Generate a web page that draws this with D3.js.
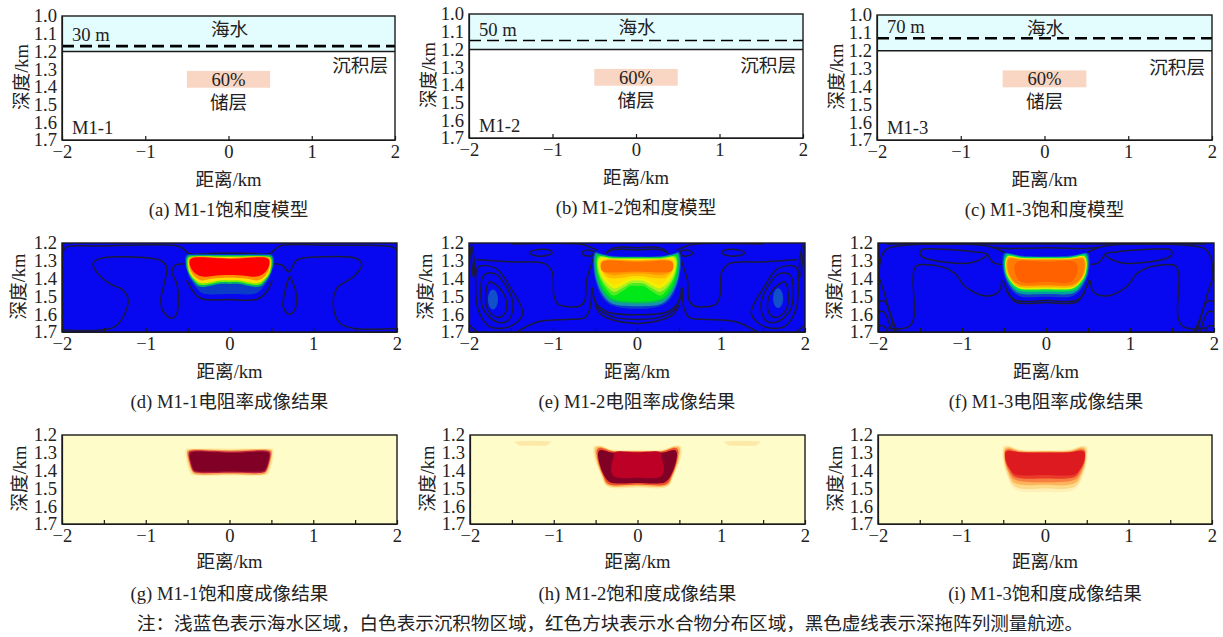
<!DOCTYPE html>
<html><head><meta charset="utf-8">
<script src="https://cdn.jsdelivr.net/npm/d3@7"></script>
<style>
html,body{margin:0;background:#fff}
svg text{font-family:"Liberation Serif","Noto Sans CJK SC",serif;fill:#222;font-size:18.6px}
</style></head><body><svg id="c" width="1223" height="637"></svg>
<script>
// ---------- axes ----------
const xDomain = [-2, 2];
const modelDepth = [1.0, 1.7];
const imageDepth = [1.2, 1.7];
const modelXTicks = [-2, -1, 0, 1, 2];
const imageXTicks = [-2, -1.5, -1, -0.5, 0, 0.5, 1, 1.5, 2];
const modelYTicks = [1.0, 1.1, 1.2, 1.3, 1.4, 1.5, 1.6, 1.7];
const imageYTicks = [1.2, 1.3, 1.4, 1.5, 1.6, 1.7];
const xTitle = "距离/km", yTitle = "深度/km";
const note = "注：浅蓝色表示海水区域，白色表示沉积物区域，红色方块表示水合物分布区域，黑色虚线表示深拖阵列测量航迹。";

// ---------- model panels ----------
const modelNames = ["M1-1", "M1-2", "M1-3"];
const modelTowOffsets = ["30 m", "50 m", "70 m"];
const modelTowDepths = [1.17, 1.15, 1.13];
const seabedDepth = 1.2;
const reservoir = {x0: -0.5, x1: 0.5, d0: 1.31, d1: 1.405};
const saturationLabel = "60%";

// ---------- captions ----------
const captions = [
 "(a) M1-1饱和度模型","(b) M1-2饱和度模型","(c) M1-3饱和度模型",
 "(d) M1-1电阻率成像结果","(e) M1-2电阻率成像结果","(f) M1-3电阻率成像结果",
 "(g) M1-1饱和度成像结果","(h) M1-2饱和度成像结果","(i) M1-3饱和度成像结果"];

// ---------- nested bands: half outlines [x km, depth km], mirrored about x = 0 ----------
const bandsD = [
 ["#0a3cc8",[[0,1.265],[.45,1.262],[.52,1.27],[.53,1.31],[.47,1.4],[.37,1.465],[.3,1.485],[0,1.487]]],
 ["#00b070",[[0,1.268],[.42,1.268],[.5,1.272],[.52,1.3],[.5,1.36],[.44,1.41],[.36,1.445],[.22,1.44],[.12,1.43],[0,1.43]]],
 ["#70f000",[[0,1.274],[.42,1.274],[.49,1.28],[.505,1.31],[.48,1.37],[.42,1.41],[.35,1.435],[.22,1.43],[.12,1.42],[0,1.42]]],
 ["#ffe000",[[0,1.279],[.43,1.279],[.48,1.285],[.495,1.31],[.47,1.37],[.41,1.405],[.34,1.425],[.22,1.42],[.12,1.41],[0,1.41]]],
 ["#ff9000",[[0,1.284],[.47,1.284],[.485,1.31],[.46,1.36],[.4,1.395],[.33,1.41],[.2,1.4],[0,1.395]]],
 ["#ff0000",[[0,1.288],[.46,1.288],[.478,1.31],[.45,1.35],[.38,1.38],[.3,1.39],[.2,1.385],[0,1.38]]]
];
const bandsE = [
 ["#0a3cc8",[[0,1.275],[.3,1.272],[.44,1.258],[.5,1.25],[.525,1.29],[.5,1.4],[.42,1.5],[.3,1.55],[0,1.57]]],
 ["#1a90b0",[[0,1.278],[.3,1.276],[.44,1.262],[.49,1.256],[.51,1.29],[.49,1.4],[.41,1.49],[.3,1.54],[0,1.555]]],
 ["#00c050",[[0,1.28],[.3,1.278],[.44,1.266],[.48,1.262],[.497,1.295],[.475,1.4],[.4,1.48],[.3,1.525],[0,1.54]]],
 ["#00e818",[[0,1.283],[.3,1.281],[.44,1.27],[.47,1.268],[.487,1.295],[.465,1.39],[.39,1.47],[.28,1.515],[0,1.53]]],
 ["#50ee20",[[0,1.285],[.3,1.283],[.44,1.273],[.46,1.275],[.478,1.295],[.455,1.38],[.38,1.45],[.28,1.495],[.17,1.47],[.08,1.442],[0,1.44]]],
 ["#b0f020",[[0,1.287],[.3,1.286],[.44,1.277],[.47,1.3],[.445,1.38],[.37,1.44],[.27,1.475],[.17,1.452],[.08,1.428],[0,1.425]]],
 ["#f0f000",[[0,1.29],[.3,1.29],[.43,1.283],[.46,1.305],[.435,1.37],[.36,1.425],[.27,1.455],[.17,1.436],[.08,1.413],[0,1.41]]],
 ["#ffdd00",[[0,1.293],[.3,1.293],[.42,1.288],[.45,1.31],[.425,1.365],[.35,1.41],[.27,1.435],[.17,1.418],[.08,1.4],[0,1.398]]],
 ["#ffbb00",[[0,1.297],[.4,1.295],[.44,1.315],[.415,1.36],[.34,1.395],[.2,1.397],[.08,1.387],[0,1.385]]],
 ["#ff9900",[[0,1.3],[.4,1.3],[.43,1.32],[.4,1.36],[.3,1.38],[.1,1.373],[0,1.372]]],
 ["#ff7000",[[0,1.305],[.41,1.305],[.43,1.33],[.41,1.358],[0,1.36]]]
];
const bandsF = [
 ["#1040c8",[[0,1.275],[.3,1.27],[.45,1.258],[.5,1.256],[.52,1.3],[.5,1.38],[.4,1.47],[.3,1.5],[0,1.502]]],
 ["#00a0a0",[[0,1.278],[.3,1.274],[.44,1.26],[.48,1.26],[.505,1.3],[.48,1.39],[.38,1.465],[.3,1.485],[0,1.487]]],
 ["#00e050",[[0,1.28],[.3,1.278],[.44,1.265],[.47,1.268],[.495,1.3],[.47,1.39],[.37,1.455],[.3,1.47],[0,1.473]]],
 ["#e0f000",[[0,1.286],[.3,1.283],[.44,1.272],[.46,1.276],[.485,1.305],[.46,1.385],[.36,1.445],[.3,1.458],[0,1.46]]],
 ["#ffb000",[[0,1.29],[.3,1.288],[.43,1.279],[.45,1.282],[.475,1.31],[.45,1.38],[.35,1.44],[.3,1.448],[0,1.45]]],
 ["#ff7c00",[[0,1.296],[.3,1.293],[.44,1.288],[.46,1.315],[.44,1.375],[.34,1.43],[0,1.438]]],
 ["#ff6000",[[0,1.306],[.34,1.306],[.375,1.33],[.36,1.38],[.3,1.418],[0,1.418]]]
];
const bandsG = [
 ["#fde8a0",[[0,1.277],[.45,1.277],[.52,1.28],[.52,1.33],[.46,1.42],[.4,1.428],[0,1.428]]],
 ["#f5a050",[[0,1.285],[.48,1.283],[.505,1.29],[.49,1.35],[.44,1.41],[.4,1.42],[0,1.42]]],
 ["#c02040",[[0,1.293],[.47,1.29],[.49,1.3],[.475,1.35],[.43,1.405],[.39,1.412],[0,1.412]]],
 ["#800026",[[0,1.3],[.46,1.298],[.475,1.31],[.46,1.355],[.42,1.4],[.38,1.405],[0,1.405]]]
];
const bandsH = [
 ["#fee8a0",[[0,1.285],[.3,1.282],[.45,1.26],[.52,1.265],[.52,1.32],[.44,1.42],[.36,1.49],[0,1.495]]],
 ["#fdbb60",[[0,1.29],[.3,1.288],[.44,1.265],[.5,1.27],[.495,1.33],[.42,1.43],[.36,1.483],[0,1.487]]],
 ["#f0502a",[[0,1.293],[.3,1.291],[.45,1.272],[.485,1.285],[.475,1.34],[.41,1.43],[.35,1.475],[0,1.478]]],
 ["#800026",[[0,1.3],[.3,1.298],[.45,1.285],[.47,1.3],[.46,1.35],[.39,1.435],[.33,1.465],[0,1.47]]],
 ["#bd0026",[[0,1.298],[.27,1.298],[.29,1.33],[.31,1.37],[.31,1.41],[.27,1.436],[0,1.44]]]
];
const bandsI = [
 ["#fff0b8",[[0,1.285],[.3,1.28],[.44,1.26],[.5,1.265],[.51,1.33],[.46,1.42],[.36,1.505],[0,1.52]]],
 ["#fdd98a",[[0,1.29],[.3,1.285],[.44,1.265],[.49,1.27],[.495,1.34],[.45,1.42],[.36,1.49],[0,1.5]]],
 ["#fdb35a",[[0,1.29],[.3,1.29],[.44,1.27],[.48,1.28],[.485,1.34],[.44,1.41],[.36,1.47],[0,1.48]]],
 ["#f58040",[[0,1.295],[.3,1.293],[.44,1.278],[.475,1.285],[.48,1.34],[.43,1.41],[.36,1.45],[0,1.465]]],
 ["#ea3a2a",[[0,1.298],[.3,1.296],[.43,1.285],[.47,1.29],[.475,1.34],[.42,1.4],[.36,1.435],[0,1.445]]],
 ["#dc1a20",[[0,1.3],[.3,1.298],[.43,1.29],[.47,1.295],[.47,1.34],[.42,1.39],[.36,1.42],[0,1.425]]]
];
const ellipsesE = [[-1.715,1.517,.06,.056,"#1050c8"],[1.68,1.51,.06,.056,"#1050c8"]];
const lensH = [[-1.475,1.237],[-1.25,1.232],[-1.025,1.237],[-1.09,1.26],[-1.41,1.26]];

// ---------- contour lines: [points, closed, mirror] ----------
const contoursD = [
 [[[-1.98,1.241],[-1.94,1.222],[-1.55,1.217],[-.67,1.213],[-.57,1.226],[-.48,1.26],[-.35,1.26],[0,1.256],[.35,1.26],[.48,1.26],[.57,1.226],[.63,1.213],[1.24,1.213],[1.94,1.222],[2,1.241]],false,false],
 [[[-1.98,1.689],[-1.55,1.689],[-1.37,1.67],[-1.25,1.596],[-1.21,1.521],[-1.27,1.465],[-1.43,1.428],[-1.57,1.372],[-1.63,1.316],[-1.55,1.288],[-1.15,1.278],[-.83,1.297],[-.75,1.334],[-.77,1.409],[-.82,1.521],[-.79,1.586],[-.69,1.623],[-.63,1.596],[-.61,1.502],[-.63,1.428],[-.69,1.362],[-.65,1.325],[-.54,1.316]],false,false],
 [[[2,1.68],[1.48,1.679],[1.32,1.651],[1.24,1.558],[1.28,1.456],[1.48,1.39],[1.58,1.325],[1.52,1.288],[1.08,1.278],[.8,1.297],[.71,1.362],[.63,1.325],[.53,1.316]],false,false],
 [[[.72,1.39],[.65,1.502],[.64,1.558],[.71,1.601],[.78,1.573],[.8,1.502],[.745,1.409]],true,false],
 [[[-.515,1.409],[-.39,1.497],[-.31,1.516],[0,1.518],[.33,1.516],[.45,1.47],[.51,1.409]],false,false]
];
const contoursE = [
 [[[-1.91,1.293],[-1.515,1.306],[-1.1,1.316],[-1.01,1.362],[-.99,1.493],[-.94,1.543],[-.68,1.554],[-.62,1.521],[-.6,1.409],[-.54,1.316],[-.51,1.269]],false,true],
 [[[-1.435,1.7],[-1.28,1.661],[-1.12,1.637],[-.8,1.629],[-.62,1.618],[-.56,1.568],[-.54,1.45]],false,true],
 [[[-.53,1.45],[-.5,1.53],[-.36,1.586],[0,1.603]],false,true],
 [[[-.515,1.5],[-.44,1.577],[-.285,1.615],[0,1.63]],false,true],
 [[[-.5,1.549],[-.42,1.605],[-.225,1.64],[0,1.653]],false,true],
 [[[-1.754,1.418],[-1.8,1.484],[-1.774,1.577],[-1.655,1.618],[-1.575,1.596],[-1.555,1.53],[-1.615,1.465]],true,true],
 [[[-1.825,1.381],[-1.86,1.465],[-1.825,1.577],[-1.675,1.642],[-1.535,1.636],[-1.475,1.549],[-1.555,1.446],[-1.695,1.372]],true,true],
 [[[-1.89,1.334],[-1.92,1.446],[-1.89,1.577],[-1.754,1.67],[-1.515,1.67],[-1.36,1.596],[-1.515,1.446],[-1.675,1.344]],true,true],
 [[[-1.28,1.255],[-1.22,1.24],[-1.04,1.24],[-1.01,1.255],[-1.08,1.27],[-1.22,1.27]],true,true],
 [[[-.66,1.255],[-.6,1.24],[-.51,1.25],[-.54,1.27],[-.62,1.27]],true,true],
 [[[-1.5,1.205],[-.7,1.205],[-.6,1.215],[-.47,1.24]],false,true],
 [[[-.36,1.25],[-.265,1.226],[0,1.226]],false,true],
 [[[-.38,1.262],[-.3,1.24],[0,1.24]],false,true],
 [[[-1.99,1.22],[-1.97,1.3],[-1.95,1.39]],false,true],
 [[[-1.97,1.21],[-1.94,1.29],[-1.93,1.39]],false,true],
 [[[-2,1.66],[-1.9,1.7]],false,true]
];
const contoursF = [
 [[[-1.5,1.25],[-1.48,1.275],[-1.16,1.31],[-.88,1.31],[-.74,1.282],[-.7,1.263],[-.84,1.25],[-1.16,1.237],[-1.48,1.237]],true,true],
 [[[-.7,1.263],[-.625,1.31],[-.53,1.321]],false,true],
 [[[-1.99,1.39],[-1.96,1.278],[-1.89,1.232],[-1.68,1.213],[-.76,1.213],[-.585,1.232],[-.486,1.256]],false,true],
 [[[-1.895,1.676],[-1.755,1.683],[-1.62,1.665],[-1.57,1.614],[-1.58,1.372],[-1.54,1.329],[-1.24,1.334],[-1.08,1.372],[-.96,1.446],[-.72,1.498],[-.565,1.474],[-.525,1.409]],false,true],
 [[[-1.99,1.39],[-1.93,1.474],[-1.855,1.595],[-1.775,1.689],[-1.76,1.7]],false,true],
 [[[-2,1.527],[-1.915,1.53],[-1.815,1.67],[-1.795,1.7]],false,true],
 [[[-2,1.586],[-1.935,1.586],[-1.835,1.7]],false,true],
 [[[-2,1.666],[-1.935,1.666],[-1.895,1.7]],false,true],
 [[[-.515,1.409],[-.41,1.512],[-.35,1.534],[0,1.534]],false,true],
 [[[-.47,1.47],[-.37,1.52],[0,1.522]],false,true],
 [[[-1.9,1.205],[-.6,1.205],[0,1.205]],false,true],
 [[[-.62,1.225],[-.5,1.23],[0,1.226]],false,true]
];

// ---------- layout ----------
const modelBoxes = [[62,395,16,140],[469,803,14,138],[877,1212,15,140]];
const imageBoxes = [[62,397,243,332],[469,805,243,332],[878,1214,243,332],
                    [62,397,435,524],[470,805,435,524],[878,1212,435,524]];
const titleGaps = [40,40,40,43,43,43,42,42,42];
const xTitleGaps = [45.5,45.5,45.5,45.5,45.5,45.5,44,44,44];
const sedimentGaps = [56,58,59];

const svg = d3.select("#c");
const ink = "#1a1a1a", contourInk = "#1a1a3c";

function outline(half){
  return half.concat(half.slice(1,-1).reverse().map(p=>[-p[0],p[1]]));
}
function frame(i, box, depth, xt, yt){
  const [l,r,t,b] = box;
  const x = d3.scaleLinear().domain(xDomain).range([l,r]);
  const y = d3.scaleLinear().domain(depth).range([t,b]);
  const g = svg.append("g");
  const id = "clip"+i;
  svg.append("clipPath").attr("id",id).append("rect").attr("x",l).attr("y",t).attr("width",r-l).attr("height",b-t);
  const plot = g.append("g").attr("clip-path",`url(#${id})`);
  const deco = svg.append("g");
  const cx = (l+r)/2;
  deco.append("rect").attr("x",l).attr("y",t).attr("width",r-l).attr("height",b-t)
    .attr("fill","none").attr("stroke",ink).attr("stroke-width",1.4);
  const ax = deco.append("g").attr("transform",`translate(0,${b})`)
    .call(d3.axisBottom(x).tickValues(xt).tickSizeInner(-4).tickSizeOuter(0).tickPadding(5)
      .tickFormat(d=>Number.isInteger(d)?d3.format("d")(d):""));
  const ay = deco.append("g").attr("transform",`translate(${l},0)`)
    .call(d3.axisLeft(y).tickValues(yt).tickSize(0).tickPadding(5).tickFormat(d3.format(".1f")));
  [ax,ay].forEach(a=>{
    a.attr("font-size",null).attr("font-family",null);
    a.selectAll("path,line").attr("stroke",ink).attr("stroke-width",1.2);
  });
  deco.append("text").attr("x",cx).attr("y",b+xTitleGaps[i]).attr("text-anchor","middle").text(xTitle);
  deco.append("text").attr("text-anchor","middle")
    .attr("transform",`translate(${l-titleGaps[i]+6},${(t+b)/2-1}) rotate(-90)`).text(yTitle);
  deco.append("text").attr("x",cx).attr("y",b+76).attr("text-anchor","middle").text(captions[i]);
  return {x,y,plot,deco,cx};
}
function fillBands(p, bands){
  const line = d3.line().x(d=>p.x(d[0])).y(d=>p.y(d[1])).curve(d3.curveCatmullRomClosed.alpha(.5));
  p.plot.selectAll(null).data(bands).join("path")
    .attr("d",d=>line(outline(d[1]))).attr("fill",d=>d[0]);
}
function drawContours(p, list){
  const openL = d3.line().x(d=>p.x(d[0])).y(d=>p.y(d[1])).curve(d3.curveCatmullRom.alpha(.5));
  const closedL = d3.line().x(d=>p.x(d[0])).y(d=>p.y(d[1])).curve(d3.curveCatmullRomClosed.alpha(.5));
  const all = [];
  list.forEach(([pts,closed,mirror])=>{
    all.push([pts,closed]);
    if(mirror) all.push([pts.map(q=>[-q[0],q[1]]),closed]);
  });
  p.plot.selectAll(null).data(all).join("path")
    .attr("d",d=>(d[1]?closedL:openL)(d[0])).attr("fill","none")
    .attr("stroke",contourInk).attr("stroke-width",1.5);
}

// ---------- model row ----------
modelBoxes.forEach((box,i)=>{
  const p = frame(i,box,modelDepth,modelXTicks,modelYTicks);
  const [l,r,t,b] = box;
  p.plot.append("rect").attr("x",l).attr("y",t).attr("width",r-l).attr("height",p.y(seabedDepth)-t).attr("fill","#e3fdff");
  p.plot.append("rect").attr("x",p.x(reservoir.x0)).attr("y",p.y(reservoir.d0))
    .attr("width",p.x(reservoir.x1)-p.x(reservoir.x0)).attr("height",p.y(reservoir.d1)-p.y(reservoir.d0)).attr("fill","#f9d6c3");
  p.plot.append("line").attr("x1",l).attr("x2",r).attr("y1",p.y(seabedDepth)).attr("y2",p.y(seabedDepth)).attr("stroke",ink).attr("stroke-width",1.4);
  p.plot.append("line").attr("x1",l).attr("x2",r).attr("y1",p.y(modelTowDepths[i])).attr("y2",p.y(modelTowDepths[i]))
    .attr("stroke","#000").attr("stroke-width",i===1?1.5:2.6).attr("stroke-dasharray","12 6");
  const dash = p.y(modelTowDepths[i]);
  const T=(s,x,y,a)=>p.deco.append("text").attr("x",x).attr("y",y).attr("text-anchor",a||"middle").text(s);
  T("海水",p.cx+1,t+20);
  T(modelTowOffsets[i],l+10,dash-5,"start");
  T("沉积层",r-7,t+sedimentGaps[i],"end");
  T(saturationLabel,p.cx,t+70);
  T("储层",p.cx,t+93);
  T(modelNames[i],l+10,b-6,"start");
});

// ---------- imaging rows ----------
const imageBands = [bandsD,bandsE,bandsF,bandsG,bandsH,bandsI];
const imageContours = [contoursD,contoursE,contoursF,null,null,null];
imageBoxes.forEach((box,k)=>{
  const p = frame(k+3,box,imageDepth,imageXTicks,imageYTicks);
  const [l,r,t,b] = box;
  p.plot.append("rect").attr("x",l).attr("y",t).attr("width",r-l).attr("height",b-t).attr("fill",k<3?"#0808f0":"#fefcc8");
  if(k===4){
    const lens = d3.line().x(d=>p.x(d[0])).y(d=>p.y(d[1])).curve(d3.curveLinearClosed);
    p.plot.append("path").attr("d",lens(lensH)).attr("fill","#fee8a8");
    p.plot.append("path").attr("d",lens(lensH.map(q=>[-q[0],q[1]]))).attr("fill","#fee8a8");
  }
  if(k===1){
    p.plot.selectAll(null).data(ellipsesE).join("ellipse")
      .attr("cx",d=>p.x(d[0])).attr("cy",d=>p.y(d[1]))
      .attr("rx",d=>p.x(d[2])-p.x(0)).attr("ry",d=>p.y(1.2+d[3])-p.y(1.2)).attr("fill",d=>d[4]);
  }
  if(imageContours[k]) drawContours(p,imageContours[k]);
  fillBands(p,imageBands[k]);
});

svg.append("text").attr("x",137).attr("y",630).attr("textLength",946).attr("lengthAdjust","spacing").text(note);
</script></body></html>
